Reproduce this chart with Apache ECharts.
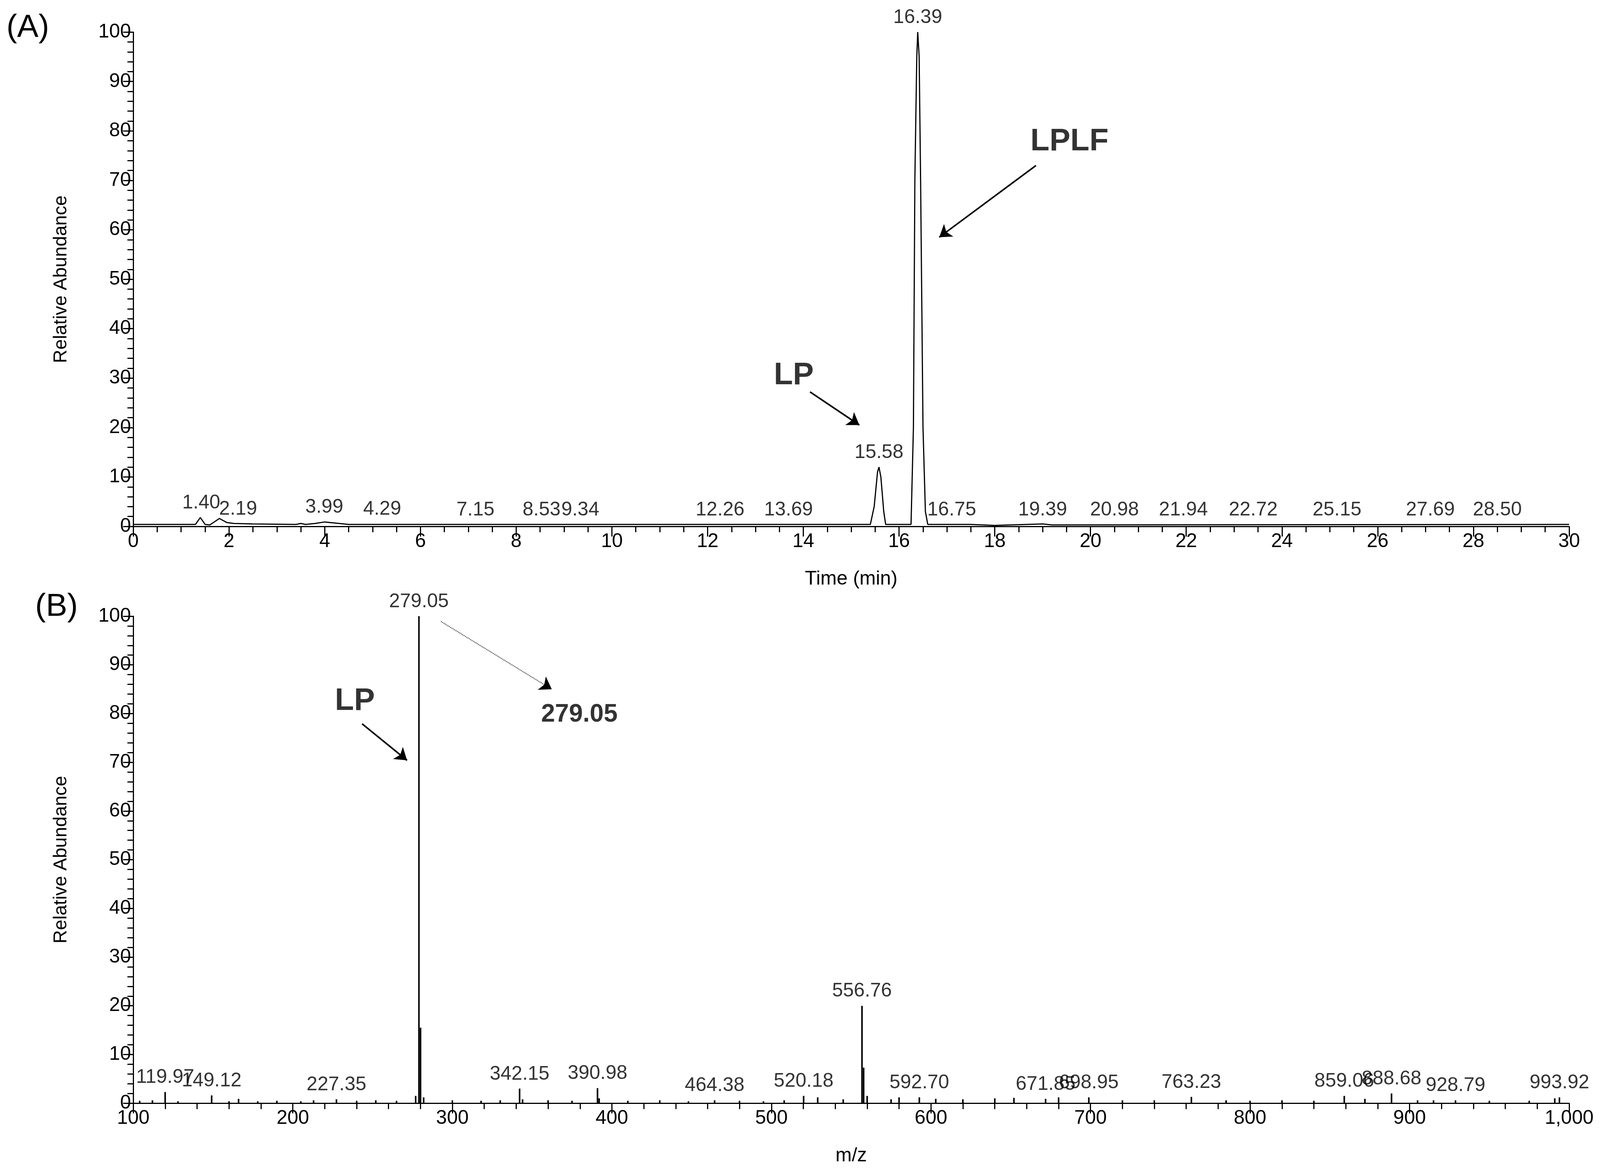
<!DOCTYPE html>
<html>
<head>
<meta charset="utf-8">
<script src="https://cdn.jsdelivr.net/npm/echarts@6/dist/echarts.min.js"></script>
<style>html,body{margin:0;background:#fff;overflow:hidden}#chart{width:100vw;height:100vh}</style>
</head>
<body>
<div id="chart"></div>
<script>
// (A) chromatogram trace: [time, relative abundance]
var ticTrace = [
  [0, 0.4], [1.3, 0.4], [1.4, 1.8], [1.5, 0.4], [1.6, 0.3], [1.8, 1.6], [1.95, 0.8], [2.1, 0.6],
  [2.5, 0.5], [3.4, 0.4], [3.5, 0.6], [3.6, 0.4], [3.8, 0.6], [4.0, 0.9], [4.2, 0.7], [4.5, 0.4],
  [8, 0.4], [12, 0.4], [15.4, 0.4], [15.48, 4], [15.55, 11], [15.58, 12], [15.62, 10], [15.68, 3],
  [15.72, 0.4], [16.25, 0.4], [16.3, 20], [16.33, 70], [16.37, 95], [16.39, 100], [16.42, 95],
  [16.45, 70], [16.5, 20], [16.55, 3], [16.6, 0.4], [17.5, 0.4], [18, 0.2], [19, 0.5], [19.2, 0.3], [30, 0.4]
];
// (A) peak labels: [time, height, text]
var ticLabels = [
  [1.42, 1.8, '1.40'], [2.19, 0.5, '2.19'], [3.99, 0.9, '3.99'], [5.2, 0.5, '4.29'], [7.15, 0.4, '7.15'],
  [8.53, 0.4, '8.53'], [9.34, 0.4, '9.34'], [12.26, 0.4, '12.26'], [13.69, 0.4, '13.69'],
  [15.58, 12, '15.58'], [16.39, 100, '16.39'], [17.1, 0.4, '16.75'], [19.0, 0.4, '19.39'],
  [20.5, 0.4, '20.98'], [21.94, 0.4, '21.94'], [23.4, 0.4, '22.72'], [25.15, 0.4, '25.15'],
  [27.1, 0.4, '27.69'], [28.5, 0.4, '28.50']
];
// (B) mass spectrum sticks: [m/z, relative abundance]
var msPeaks = [
  [104, 0.5], [112, 0.6], [119.97, 2.3], [128, 0.4], [149.12, 1.6], [160, 0.4], [166, 0.9], [178, 0.4],
  [190, 0.5], [205, 0.4], [213, 0.6], [227.35, 0.8], [240, 0.5], [252, 0.6], [265, 0.5], [277, 1.5],
  [279.05, 100], [280.05, 15.5], [282, 1.2], [300, 0.6], [318, 0.5], [330, 0.6], [342.15, 3.0],
  [344, 0.8], [360, 0.6], [375, 0.5], [390.98, 3.1], [392, 1.0], [410, 0.5], [430, 0.6], [448, 0.4],
  [464.38, 0.6], [480, 0.5], [495, 0.4], [508, 0.6], [520.18, 1.5], [529, 1.2], [545, 0.8],
  [556.76, 20], [557.8, 7.3], [560, 1.5], [575, 0.8], [580, 1.2], [592.70, 1.2], [603, 0.9],
  [620, 0.8], [640, 1.0], [652, 1.1], [671.85, 0.9], [680, 1.2], [698.95, 1.2], [720, 0.6],
  [740, 0.6], [763.23, 1.3], [785, 0.6], [800, 0.5], [820, 0.6], [840, 0.5], [859.06, 1.5],
  [872, 0.9], [888.68, 2.0], [905, 0.6], [915, 0.6], [928.79, 0.6], [950, 0.5], [975, 0.5],
  [991, 1.0], [993.92, 1.2]
];
// (B) peak labels: [m/z, height, text]
var msLabels = [
  [119.97, 2.3, '119.97'], [149.12, 1.6, '149.12'], [227.35, 0.8, '227.35'], [279.05, 100, '279.05'],
  [342.15, 3.0, '342.15'], [390.98, 3.1, '390.98'], [464.38, 0.6, '464.38'], [520.18, 1.5, '520.18'],
  [556.76, 20, '556.76'], [592.70, 1.2, '592.70'], [671.85, 0.9, '671.85'], [698.95, 1.2, '698.95'],
  [763.23, 1.3, '763.23'], [859.06, 1.5, '859.06'], [888.68, 2.0, '888.68'], [928.79, 0.6, '928.79'],
  [993.92, 1.2, '993.92']
];

var font = 'Liberation Sans, Arial, sans-serif';
var boldFont = 'Liberation Sans Narrow, Liberation Sans, sans-serif';

function yAxis(gi) {
  return {
    type: 'value', gridIndex: gi, min: 0, max: 100, interval: 10,
    name: 'Relative Abundance', nameLocation: 'middle', nameGap: 160,
    nameTextStyle: { color: '#000', fontSize: 48, fontFamily: font },
    axisLine: { show: true, lineStyle: { color: '#000', width: 3 } },
    axisTick: { show: true, length: 26, lineStyle: { color: '#000', width: 3 } },
    minorTick: { show: true, splitNumber: 5, length: 15, lineStyle: { color: '#000', width: 3 } },
    axisLabel: { color: '#000', fontSize: 50, fontFamily: font, margin: 6 },
    splitLine: { show: false }
  };
}
function xAxis(gi, min, max, interval, minorSplit, name) {
  return {
    type: 'value', gridIndex: gi, min: min, max: max, interval: interval,
    name: name, nameLocation: 'middle', nameGap: 110,
    nameTextStyle: { color: '#000', fontSize: 50, fontFamily: font },
    axisLine: { show: true, onZero: false, lineStyle: { color: '#000', width: 3 } },
    axisTick: { show: true, length: 26, lineStyle: { color: '#000', width: 3 } },
    minorTick: { show: true, splitNumber: minorSplit, length: 15, lineStyle: { color: '#000', width: 3 } },
    axisLabel: { color: '#000', fontSize: 50, fontFamily: font, margin: 14 },
    splitLine: { show: false }
  };
}
function labelSeries(xi, data, gap) {
  return {
    type: 'scatter', xAxisIndex: xi, yAxisIndex: xi, symbolSize: 0, silent: true, z: 5,
    data: data.map(function (d) { return { value: [d[0], d[1]], name: d[2] }; }),
    label: { show: true, position: 'top', distance: gap, formatter: '{b}', color: '#000', fontSize: 50, fontFamily: font }
  };
}
function noteSeries(xi, notes, size) {
  return {
    type: 'scatter', xAxisIndex: xi, yAxisIndex: xi, symbolSize: 0, silent: true,
    data: notes.map(function (d) { return { value: [d[0], d[1]], name: d[2] }; }),
    label: { show: true, position: 'inside', formatter: '{b}', color: '#000', fontSize: size, fontWeight: 'bold', fontFamily: boldFont }
  };
}
function arrow(from, to, dashed) {
  return [{ coord: from, lineStyle: { color: '#000', width: dashed ? 2 : 4, type: dashed ? 'dotted' : 'solid' } }, { coord: to }];
}

var chart = echarts.init(document.getElementById('chart'));
chart.setOption({
  animation: false,
  backgroundColor: '#fff',
  grid: [
    { left: '8.33%', right: '1.93%', top: '2.73%', bottom: '55.2%' },
    { left: '8.33%', right: '1.93%', top: '52.44%', bottom: '6.11%' }
  ],
  xAxis: [xAxis(0, 0, 30, 2, 4, 'Time (min)'), xAxis(1, 100, 1000, 100, 5, 'm/z')],
  yAxis: [yAxis(0), yAxis(1)],
  graphic: [
    { type: 'text', left: '0.4%', top: '1%', style: { text: '(A)', fontSize: 82, fontFamily: font, fill: '#000' } },
    { type: 'text', left: '2.2%', top: '50.3%', style: { text: '(B)', fontSize: 82, fontFamily: font, fill: '#000' } }
  ],
  series: [
    {
      type: 'line', xAxisIndex: 0, yAxisIndex: 0, data: ticTrace, symbol: 'none',
      lineStyle: { color: '#000', width: 3 },
      markLine: {
        silent: true, symbol: ['none', 'arrow'], symbolSize: 30, label: { show: false },
        data: [arrow([18.86, 73], [16.84, 58.5]), arrow([14.14, 27.2], [15.17, 20.5])]
      }
    },
    labelSeries(0, ticLabels, 12),
    noteSeries(0, [[19.56, 77.8, 'LPLF'], [13.8, 30.5, 'LP']], 80),
    {
      type: 'bar', xAxisIndex: 1, yAxisIndex: 1, data: msPeaks, barWidth: 4,
      itemStyle: { color: '#000' },
      markLine: {
        silent: true, symbol: ['none', 'arrow'], symbolSize: 30, label: { show: false },
        data: [arrow([243.4, 77.9], [271.6, 70.4]), arrow([292.9, 98.9], [362.3, 85], true)]
      }
    },
    labelSeries(1, msLabels, 12),
    noteSeries(1, [[238.9, 82.5, 'LP']], 80),
    noteSeries(1, [[379.6, 79.8, '279.05']], 64)
  ]
});
</script>
</body>
</html>
